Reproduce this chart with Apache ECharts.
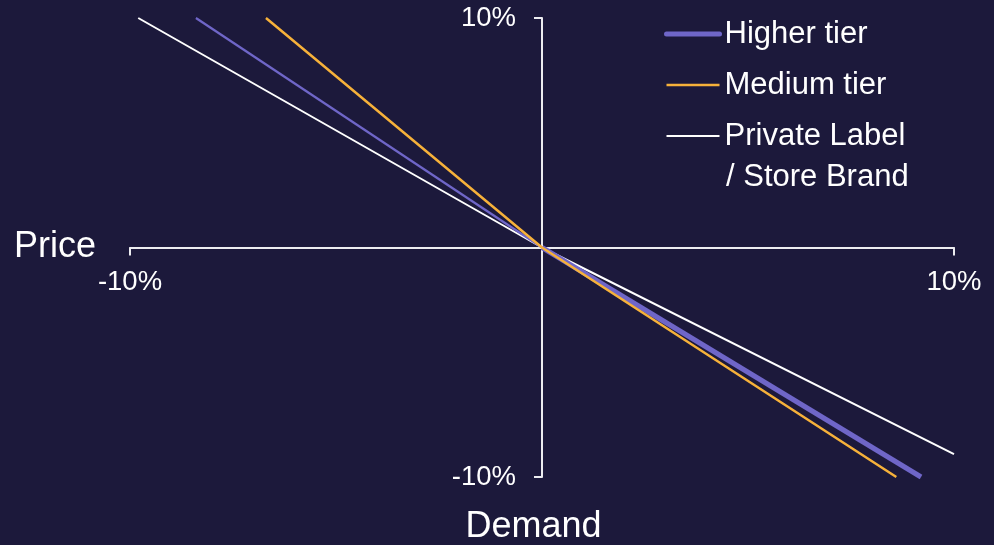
<!DOCTYPE html>
<html>
<head>
<meta charset="utf-8">
<script src="https://cdn.jsdelivr.net/npm/echarts@6/dist/echarts.min.js"></script>
<style>
  html, body { margin: 0; padding: 0; background: #1c193b; }
  #chart { width: 994px; height: 545px; }
</style>
</head>
<body>
<div id="chart"></div>
<script>
// Price change (%) on x, demand change (%) on y; each tier is a kinked line through the origin
const axisTicks = [-10, 10];
const higherTier = [[-8.4, 10], [0, 0], [9.2, -10]];
const mediumTier = [[-6.7, 10], [0, 0], [8.6, -10]];
const privateLabel = [[-9.8, 10], [0, 0], [10, -9.0]];

const seriesNames = ['Higher tier', 'Medium tier', 'Private Label / Store Brand'];

const FONT = '"Liberation Sans", Arial, sans-serif';
const AXIS_COLOR = '#ececf0';
const PURPLE = '#6f66c8';
const ORANGE = '#f6b13a';
const WHITE = '#ffffff';

// plot area; the axes cross in its middle
const GRID = { left: 130, right: 40, top: 18, bottom: 68 };
const plotW = 994 - GRID.left - GRID.right;
const plotH = 545 - GRID.top - GRID.bottom;

const chart = echarts.init(document.getElementById('chart'), null, { renderer: 'canvas' });

const axisCommon = {
  type: 'value',
  min: -10,
  max: 10,
  splitLine: { show: false },
  axisLine: { show: true, onZero: false, lineStyle: { color: AXIS_COLOR, width: 2 } },
  axisTick: { show: true, customValues: axisTicks, length: 8, lineStyle: { color: AXIS_COLOR, width: 2 } }
};

const hiddenDot = { color: 'rgba(0,0,0,0)', borderWidth: 0, opacity: 0 };

chart.setOption({
  backgroundColor: '#1c193b',
  animation: false,
  grid: Object.assign({ containLabel: false }, GRID),
  xAxis: Object.assign({}, axisCommon, {
    position: 'bottom',
    offset: -plotH / 2,
    name: 'Price',
    nameLocation: 'start',
    nameGap: 34,
    nameTextStyle: { color: WHITE, fontSize: 36, fontFamily: FONT },
    axisLabel: {
      customValues: axisTicks,
      formatter: v => v + '%',
      color: WHITE, fontSize: 27.5, fontFamily: FONT, margin: 21
    }
  }),
  yAxis: Object.assign({}, axisCommon, {
    position: 'left',
    offset: -plotW / 2,
    name: 'Demand',
    nameLocation: 'start',
    nameGap: 32,
    nameTextStyle: { color: WHITE, fontSize: 36, fontFamily: FONT, padding: [0, 17, 0, 0] },
    axisLabel: {
      customValues: axisTicks,
      formatter: v => v + '%',
      color: WHITE, fontSize: 27.5, fontFamily: FONT, margin: 26
    }
  }),
  legend: {
    orient: 'vertical',
    left: 664,
    top: 15,
    padding: 0,
    itemWidth: 53,
    itemHeight: 14,
    itemGap: 13,
    selectedMode: false,
    formatter: name => name === seriesNames[2] ? 'Private Label' : name,
    textStyle: { color: WHITE, fontSize: 31, fontFamily: FONT, lineHeight: 38 },
    data: [
      { name: seriesNames[0], lineStyle: { width: 5, cap: 'round', color: PURPLE }, itemStyle: hiddenDot },
      { name: seriesNames[1], lineStyle: { width: 2.5, color: ORANGE }, itemStyle: hiddenDot },
      { name: seriesNames[2], lineStyle: { width: 2, color: WHITE }, itemStyle: hiddenDot }
    ]
  },
  graphic: [{
    type: 'text',
    left: 726,
    top: 158,
    style: { text: '/ Store Brand', fill: WHITE, fontSize: 31, fontFamily: FONT, lineHeight: 38 }
  }],
  series: [
    {
      name: seriesNames[2], type: 'line', symbol: 'none', silent: true,
      data: privateLabel,
      lineStyle: { color: WHITE, width: 2 }, itemStyle: { color: WHITE }, z: 2
    },
    {
      name: seriesNames[0], type: 'line', symbol: 'none', silent: true,
      data: higherTier.slice(0, 2),
      lineStyle: { color: PURPLE, width: 2.2 }, itemStyle: { color: PURPLE }, z: 3
    },
    {
      name: seriesNames[0], type: 'line', symbol: 'none', silent: true,
      data: higherTier.slice(1),
      lineStyle: { color: PURPLE, width: 5 }, itemStyle: { color: PURPLE }, z: 3
    },
    {
      name: seriesNames[1], type: 'line', symbol: 'none', silent: true,
      data: mediumTier,
      lineStyle: { color: ORANGE, width: 2.5 }, itemStyle: { color: ORANGE }, z: 4
    }
  ]
});
</script>
</body>
</html>
